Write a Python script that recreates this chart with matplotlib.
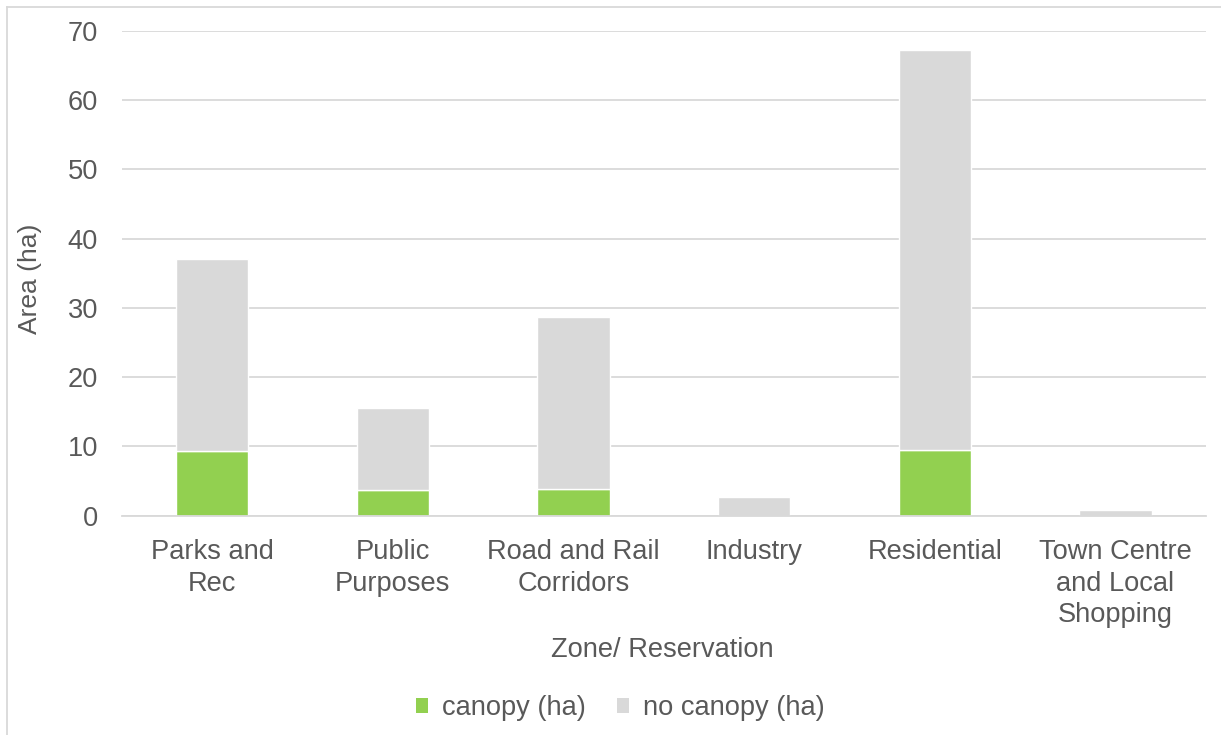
import matplotlib
matplotlib.use("Agg")
import matplotlib.pyplot as plt
from matplotlib.lines import Line2D
from matplotlib.patches import Patch
import numpy as np

categories = ["Parks and\nRec", "Public\nPurposes", "Road and Rail\nCorridors",
              "Industry", "Residential", "Town Centre\nand Local\nShopping"]
canopy = [9.4, 3.75, 3.9, 0.0, 9.5, 0.0]
no_canopy = [27.7, 11.8, 24.8, 2.66, 57.7, 0.82]
y_ticks = [0, 10, 20, 30, 40, 50, 60, 70]

GREEN = "#92D050"
GREY = "#D9D9D9"
TEXT = "#595959"
FS = 19.6

plt.rcParams['font.family'] = ['Liberation Sans', 'DejaVu Sans']

W, H = 1221, 735
fig = plt.figure(figsize=(W / 100, H / 100), dpi=100)
ax = fig.add_axes([121.7 / W, 1 - 515.7 / H, (1205.7 - 121.7) / W, (515.7 - 31) / H])

x = np.arange(len(categories))
ax.bar(x, canopy, width=0.40, color=GREEN, edgecolor="white", linewidth=1, zorder=3,
       label="canopy (ha)")
ax.bar(x, no_canopy, width=0.40, bottom=canopy, color=GREY, edgecolor="white", linewidth=1,
       zorder=3, label="no canopy (ha)")

ax.set_xlim(-0.5, len(categories) - 0.5)
ax.set_ylim(0, 70)
ax.set_yticks(y_ticks)
ax.yaxis.grid(True, color=GREY, linewidth=1.3, zorder=0)
ax.set_axisbelow(True)
for s in ["top", "right", "left"]:
    ax.spines[s].set_visible(False)
ax.spines["bottom"].set_color(GREY)
ax.spines["bottom"].set_linewidth(1.3)
ax.spines["bottom"].set_zorder(4)

ax.set_xticks(x)
ax.set_xticklabels(categories, fontsize=FS, color=TEXT, linespacing=1.27)
ax.tick_params(axis="x", length=0, pad=17)
ax.tick_params(axis="y", length=0, pad=17, labelsize=FS, labelcolor=TEXT)

fig.text(662 / W, 1 - 650 / H, "Zone/ Reservation", fontsize=FS, color=TEXT,
         ha="center", va="center")
fig.text(30 / W, 1 - 279 / H, "Area (ha)", fontsize=19, color=TEXT,
         ha="center", va="center", rotation=90)

handles = [Patch(facecolor=GREEN, edgecolor="none", label="canopy (ha)"),
           Patch(facecolor=GREY, edgecolor="none", label="no canopy (ha)")]
leg = fig.legend(handles=handles, loc="center", bbox_to_anchor=(620 / W, 1 - 708 / H),
                 ncol=2, frameon=False, fontsize=FS, handlelength=0.45, handleheight=0.45,
                 handletextpad=0.5, columnspacing=1.15)
for t in leg.get_texts():
    t.set_color(TEXT)

# chart area border (top and left visible)
fig.add_artist(Line2D([7.5 / W, 7.5 / W], [0, 1 - 6.5 / H], transform=fig.transFigure,
                      color=GREY, linewidth=1.3))
fig.add_artist(Line2D([7.5 / W, 1], [1 - 6.5 / H, 1 - 6.5 / H], transform=fig.transFigure,
                      color=GREY, linewidth=1.3))

fig.savefig("out.png", dpi=100, facecolor="white")
